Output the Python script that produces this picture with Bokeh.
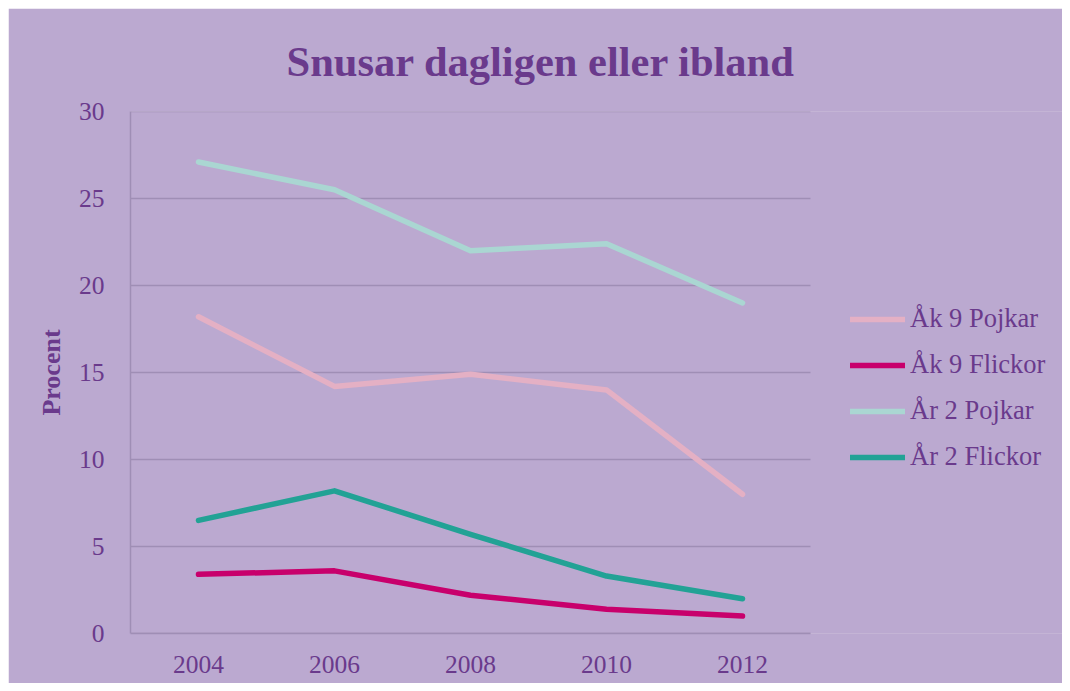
from bokeh.plotting import figure
from bokeh.models import Legend, LegendItem, FixedTicker, Range1d
from bokeh.embed import file_html
from bokeh.resources import INLINE

years = [2004, 2006, 2008, 2010, 2012]
ak9_pojkar = [18.2, 14.2, 14.9, 14.0, 8.0]
ak9_flickor = [3.4, 3.6, 2.2, 1.4, 1.0]
ar2_pojkar = [27.1, 25.5, 22.0, 22.4, 19.0]
ar2_flickor = [6.5, 8.2, 5.7, 3.3, 2.0]
series_names = ["Åk 9 Pojkar", "Åk 9 Flickor", "År 2 Pojkar", "År 2 Flickor"]
series_colors = ["#E4B0C4", "#C8006C", "#AAD6D2", "#22A295"]
y_ticks = [0, 5, 10, 15, 20, 25, 30]
x_start, x_end = 2003, 2013   # category span of the plotting area
x_view_end = x_start + 932 / 68

BG = "#BBA9D0"
TXT = "#6A3A8C"
GRID = "#9F8EB5"
FONT = "Liberation Serif"

# frame extends to the right edge so the legend (drawn inside) is not clipped
p = figure(width=1054, height=675, output_backend="svg", toolbar_location=None,
           x_range=Range1d(x_start, x_view_end), y_range=Range1d(0, 30),
           min_border_left=122, min_border_right=0, min_border_top=102,
           min_border_bottom=50, margin=(8, 8, 8, 8))
p.background_fill_color = BG
p.border_fill_color = BG
p.outline_line_color = None

p.title.text = "Snusar dagligen eller ibland"
p.title.text_font = FONT
p.title.text_font_size = "42.5px"
p.title.text_font_style = "bold"
p.title.text_color = TXT
p.title.align = "left"
p.title.offset = 156
p.title.standoff = 54

p.xgrid.grid_line_color = None
p.ygrid.grid_line_color = None
# hide the faint seam along the frame edges right of the plotting area
p.segment(x0=[x_end, x_end], x1=[x_view_end, x_view_end], y0=[y_ticks[0], y_ticks[-1]],
          y1=[y_ticks[0], y_ticks[-1]], line_color=BG, line_width=4)
p.segment(x0=[x_start] * len(y_ticks), x1=[x_end] * len(y_ticks), y0=y_ticks, y1=y_ticks,
          line_color=GRID, line_width=1.5)

p.yaxis.ticker = FixedTicker(ticks=y_ticks)
p.xaxis.ticker = FixedTicker(ticks=years)
p.xaxis.bounds = (x_start, x_end)

for ax in (p.xaxis, p.yaxis):
    ax.axis_line_color = GRID
    ax.axis_line_width = 1.5
    ax.major_tick_line_color = None
    ax.minor_tick_line_color = None
    ax.major_label_text_font = FONT
    ax.major_label_text_font_size = "25.5px"
    ax.major_label_text_color = TXT

p.yaxis.major_label_standoff = 20
p.xaxis.major_label_standoff = 16
p.yaxis.axis_label = "Procent"
p.yaxis.axis_label_text_font = FONT
p.yaxis.axis_label_text_font_size = "26px"
p.yaxis.axis_label_text_font_style = "bold"
p.yaxis.axis_label_text_color = TXT
p.yaxis.axis_label_standoff = 10

items = []
for name, vals, col in zip(series_names, [ak9_pojkar, ak9_flickor, ar2_pojkar, ar2_flickor], series_colors):
    r = p.line(years, vals, line_color=col, line_width=5.5, line_cap="round", line_join="round")
    items.append(LegendItem(label=name, renderers=[r]))

legend = Legend(items=items, location=(720, 161), background_fill_alpha=0,
                border_line_color=None, padding=0, margin=0,
                glyph_width=55, glyph_height=30, label_height=30, spacing=15,
                label_standoff=5, label_text_font=FONT, label_text_font_size="26.5px",
                label_text_color=TXT)
p.add_layout(legend, "center")

open("out.html", "w").write(file_html(p, INLINE))
